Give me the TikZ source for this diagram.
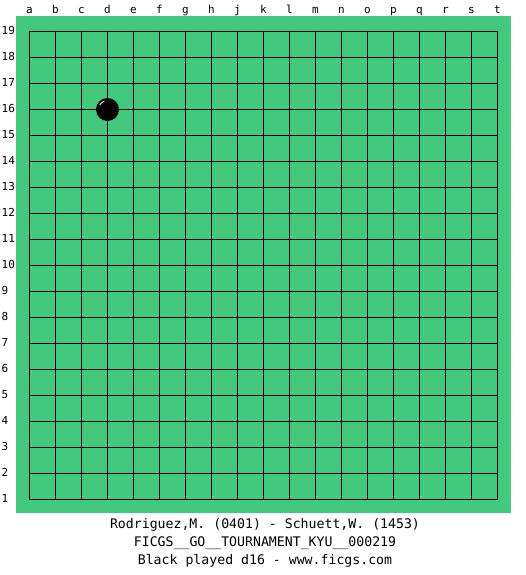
\documentclass[tikz,border=0pt]{standalone}
\usepackage{fontspec}
\setmonofont{DejaVu Sans Mono}
\definecolor{board}{RGB}{66,201,126}
\begin{document}
\begin{tikzpicture}[x=1pt,y=-1pt,
  gridline/.style={black,line width=1pt},
  coordlabel/.style={font=\ttfamily\fontsize{11}{12}\selectfont,inner sep=0pt},
  caption/.style={font=\ttfamily\fontsize{13.2}{15}\selectfont,inner sep=0pt,anchor=center},
  stone/.style={circle,fill=black,minimum size=23pt,inner sep=0pt}]
\useasboundingbox (0,0) rectangle (525,575);
\fill[white] (0,0) rectangle (525,575);
\fill[board] (16,16) rectangle (511,513);
\foreach \i in {0,...,18}{
  \draw[gridline] ({29.5+26*\i},31.5) -- ({29.5+26*\i},499.5);
  \draw[gridline] (29.5,{31.5+26*\i}) -- (497.5,{31.5+26*\i});
}
\foreach \l [count=\i from 0] in {a,b,c,d,e,f,g,h,j,k,l,m,n,o,p,q,r,s,t}{
  \node[coordlabel,anchor=base] (col\l) at ({29.5+26*\i},14) {\l};
}
\foreach \n in {1,...,19}{
  \node[coordlabel,anchor=base west] (row\n) at (1.5,{31.5+26*(19-\n)+3}) {\n};
}
\node[stone] (d16) at (107.5,109.5) {};
\draw[white,line width=0.7pt] (d16.center) ++(-150:9) arc[start angle=-150,end angle=-110,radius=9];
\node[caption] (line1) at (265,525) {Rodriguez,M. (0401) - Schuett,W. (1453)};
\node[caption] (line2) at (265,543) {FICGS\_\_GO\_\_TOURNAMENT\_KYU\_\_000219};
\node[caption] (line3) at (265,561) {Black played d16 - www.ficgs.com};
\end{tikzpicture}
\end{document}
